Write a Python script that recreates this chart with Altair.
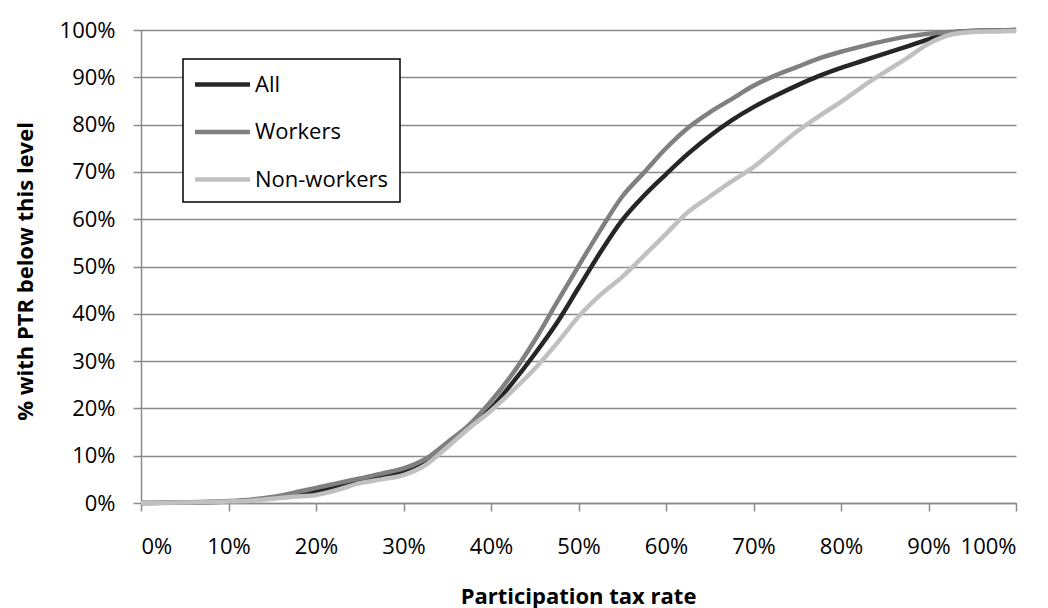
import pandas as pd
import altair as alt

# participation tax rate (x) and cumulative share below it
rates = [0, 0.05, 0.10, 0.125, 0.15, 0.175, 0.20, 0.225, 0.25, 0.275, 0.30, 0.325,
         0.35, 0.375, 0.40, 0.425, 0.45, 0.475, 0.50, 0.525, 0.55, 0.575, 0.60,
         0.625, 0.65, 0.675, 0.70, 0.725, 0.75, 0.775, 0.80, 0.825, 0.85, 0.875,
         0.90, 0.925, 0.95, 0.975, 1.0]

all_share = [0, 0.1, 0.3, 0.6, 1.1, 1.8, 2.5, 3.5, 4.6, 5.6, 6.8, 9.0,
             12.6, 16.2, 20.0, 25.5, 31.5, 38.0, 45.5, 53.0, 59.8, 65.0, 69.5,
             73.8, 77.6, 80.9, 83.7, 86.1, 88.3, 90.3, 92.0, 93.5, 95.0, 96.5,
             98.0, 99.4, 99.8, 99.9, 100]

workers_share = [0, 0.1, 0.4, 0.7, 1.3, 2.2, 3.2, 4.2, 5.2, 6.2, 7.3, 9.3,
                 12.8, 16.5, 21.5, 27.4, 34.4, 42.3, 50.1, 57.7, 64.8, 69.9, 75.0,
                 79.3, 82.6, 85.4, 88.2, 90.4, 92.2, 94.0, 95.4, 96.6, 97.7, 98.6,
                 99.2, 99.6, 99.8, 99.9, 100]

nonworkers_share = [0, 0.1, 0.3, 0.5, 0.9, 1.3, 1.7, 2.8, 4.2, 5.0, 5.9, 8.0,
                    11.8, 15.8, 19.5, 23.8, 28.4, 33.7, 39.4, 44.0, 47.8, 52.3, 56.9,
                    61.5, 64.8, 68.0, 71.0, 74.8, 78.6, 81.8, 84.8, 88.1, 91.1, 94.0,
                    97.1, 99.0, 99.6, 99.7, 99.8]

groups = ['All', 'Workers', 'Non-workers']
colours = ['#262626', '#808080', '#c0c0c0']

#%%
frames = []
for name, vals in zip(groups, [all_share, workers_share, nonworkers_share]):
    frames.append(pd.DataFrame({'rate': rates, 'share': [v / 100 for v in vals], 'group': name}))
data = pd.concat(frames, ignore_index=True)

ticks = [i / 10 for i in range(11)]
grey = '#8a8a8a'

#%%
chart = alt.Chart(data).mark_line(strokeWidth=4.5, interpolate='monotone').encode(
    alt.X('rate:Q', title='Participation tax rate',
          scale=alt.Scale(domain=[0, 1], nice=False),
          axis=alt.Axis(values=ticks, format='.0%', grid=False, tickSize=8,
                        labelPadding=25, titleY=100, titleX=437,
                        titleBaseline='alphabetic')),
    alt.Y('share:Q', title='% with PTR below this level',
          scale=alt.Scale(domain=[0, 1], nice=False),
          axis=alt.Axis(values=ticks, format='.0%', tickSize=8, labelPadding=18,
                        titleX=-109, titleY=241, titleBaseline='alphabetic')),
    alt.Color('group:N', sort=groups,
              scale=alt.Scale(domain=groups, range=colours),
              legend=alt.Legend(title=None, orient='none', legendX=42, legendY=29,
                                fillColor='white', strokeColor='black',
                                padding=11, symbolType='M-2.29,0H2.29',
                                symbolSize=576, symbolStrokeWidth=4.5,
                                symbolOffset=14, labelOffset=18, rowPadding=21.5,
                                labelFontSize=22, labelColor='black')),
    order=alt.Order('rate:Q')
).properties(
    width=875, height=473,
    autosize=alt.AutoSizeParams(type='none'),
    padding={'left': 133, 'top': 22, 'right': 24, 'bottom': 105}
).configure(
    font='Open Sans'
).configure_axis(
    labelFontSize=22, labelColor='black', titleFontSize=22, titleColor='black',
    titleFontWeight='bold', domainColor=grey, domainWidth=1.5, tickColor=grey,
    tickWidth=1.5, gridColor=grey, gridWidth=1.5, gridOpacity=1
).configure_legend(
    strokeWidth=1.5
).configure_view(
    stroke=None
)

chart.save("out.html", embed_options={"renderer": "svg", "actions": False})
